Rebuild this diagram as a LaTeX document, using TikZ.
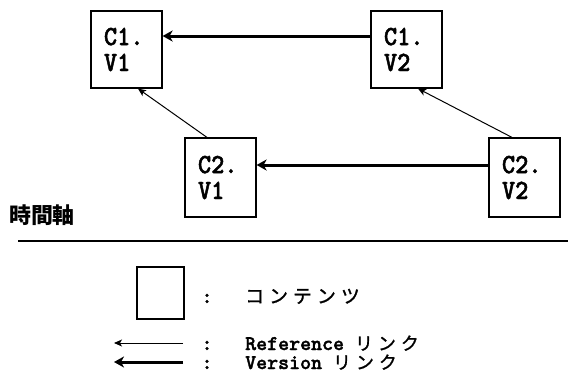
\documentclass[tikz,border=0pt]{standalone}
\usepackage{fontspec}
\usetikzlibrary{arrows.meta}
\newfontfamily\jpfont{Noto Sans CJK JP}
\newfontfamily\kanafont{Noto Sans CJK JP}[FakeBold=1.2]
\newfontfamily\typefont{lmmonolt10-bold}[Extension=.otf, FakeBold=1.6, FakeStretch=0.9]
\newfontfamily\keyfont{lmmonolt10-bold}[Extension=.otf, FakeBold=1.6]
% spaced katakana
\newcommand{\kana}[1]{{\kanafont\fontsize{19}{20}\selectfont #1}}
\newcommand{\smallkana}[1]{{\kanafont\fontsize{18}{18}\selectfont #1}}
\newcommand{\gap}{\hspace{5bp}}

\begin{document}
\begin{tikzpicture}[x=1bp,y=-1bp,
  content/.style={draw, line width=1.2bp, inner xsep=13bp, inner ysep=0bp,
    text width=45bp, minimum width=71bp, align=left,
    font=\typefont\fontsize{28}{26}\selectfont},
  verlink/.style={-{Stealth[length=10bp,width=11bp,inset=3bp]}, line width=3bp},
  reflink/.style={-{Stealth[length=8bp,width=7bp,inset=2bp]}, line width=1bp},
  keytext/.style={anchor=base west, inner sep=0bp, text height=13bp, text depth=2bp,
    font=\keyfont\fontsize{21}{20}\selectfont},
  colon/.style={anchor=base, inner sep=0bp, text height=11bp, text depth=0bp,
    font=\keyfont\fontsize{21}{20}\selectfont}]
\useasboundingbox (0,0) rectangle (574,380);

% contents and their versions
\node[content, minimum height=77bp] (c1v1) at (126.5,49.5) {C1.\\V1};
\node[content, minimum height=77bp] (c1v2) at (406.5,49.5) {C1.\\V2};
\node[content, minimum height=79bp] (c2v1) at (220.5,177.5) {C2.\\V1};
\node[content, minimum height=79bp] (c2v2) at (524.5,177.5) {C2.\\V2};

% version links
\draw[verlink] ([yshift=13.5bp]c1v2.west) -- ([yshift=13.5bp]c1v1.east);
\draw[verlink] ([yshift=12.5bp]c2v2.west) -- ([yshift=12.5bp]c2v1.east);

% reference links
\draw[reflink] ([xshift=-13.5bp]c2v1.north) -- ([xshift=11.5bp]c1v1.south);
\draw[reflink] ([xshift=-12.5bp]c2v2.north) -- ([xshift=11.5bp]c1v2.south);

% time axis
\node[inner sep=0bp, font=\jpfont\bfseries\fontsize{22}{22}\selectfont] (axis) at (42,215) {時間軸};
\coordinate (tl) at (18,241);
\coordinate (tr) at (568,241);
\draw[line width=1.5bp] (tl) -- (tr);

% legend
\node[draw, line width=1.2bp, minimum width=47bp, minimum height=52bp, inner sep=0bp] (key) at (160.5,293) {};
\node[colon] (c1) at (207,303) {:};
\node[keytext] (t1) at (245,303) {\kana{コ\gap ン\gap テ\gap ン\gap ツ}};

\coordinate (ra) at (183,343);
\coordinate (rb) at (114,343);
\draw[reflink] (ra) -- (rb);
\node[colon] (c2) at (207,350) {:};
\node[keytext] (t2) at (245,350) {Reference \smallkana{リ\gap ン\gap ク}};

\coordinate (va) at (183,362);
\coordinate (vb) at (114,362);
\draw[verlink] (va) -- (vb);
\node[colon] (c3) at (207,369) {:};
\node[keytext] (t3) at (245,369) {Version \smallkana{リ\gap ン\gap ク}};
\end{tikzpicture}
\end{document}
